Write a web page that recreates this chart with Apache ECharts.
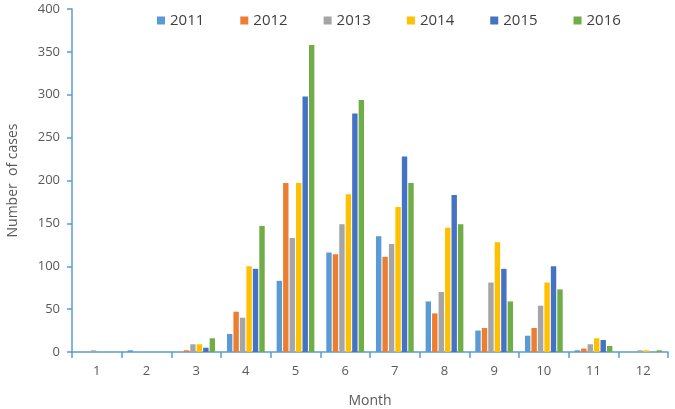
<!DOCTYPE html>
<html lang="en">
<head>
	<meta charset="UTF-8">
	<title>Cases by month</title>
	<style>
		* {
			margin: 0;
			padding: 0;
		}

		#box {
			width: 675px;
			height: 409px;
		}
	</style>
	<script src="https://cdn.jsdelivr.net/npm/echarts@6/dist/echarts.min.js"></script>
</head>
<body>
<div id="box"></div>
</body>
<script>
	// 数据
	const months = ['1', '2', '3', '4', '5', '6', '7', '8', '9', '10', '11', '12'];
	const years = ['2011', '2012', '2013', '2014', '2015', '2016'];
	const colors = ['#5B9BD5', '#ED7D31', '#A5A5A5', '#FFC000', '#4472C4', '#70AD47'];

	const cases2011 = [0, 2, 0, 21, 83, 116, 135, 59, 25, 19, 2, 0];
	const cases2012 = [0, 0, 2, 47, 197, 114, 111, 45, 28, 28, 4, 0];
	const cases2013 = [2, 0, 9, 40, 133, 149, 126, 70, 81, 54, 9, 2];
	const cases2014 = [0, 0, 9, 100, 197, 184, 169, 145, 128, 81, 16, 2];
	const cases2015 = [0, 0, 5, 97, 298, 278, 228, 183, 97, 100, 14, 0];
	const cases2016 = [0, 0, 16, 147, 358, 294, 197, 149, 59, 73, 7, 2];

	const allCases = [cases2011, cases2012, cases2013, cases2014, cases2015, cases2016];

	const axisColor = '#5B9BD5';
	const textColor = '#595959';
	const font = '"Open Sans", "Noto Sans", sans-serif';

	const myEcharts = echarts.init(document.getElementById('box'));

	myEcharts.setOption({
		animation: false,
		color: colors,
		textStyle: {fontFamily: font},
		legend: {
			top: 8,
			left: 152,
			icon: 'rect',
			itemWidth: 8,
			itemHeight: 8,
			itemGap: 36,
			textStyle: {fontSize: 15, color: '#404040', fontFamily: font},
			data: years,
		},
		grid: {
			left: 72,
			right: 7,
			top: 9,
			bottom: 57,
			containLabel: false,
			outerBoundsMode: 'none',
		},
		xAxis: {
			type: 'category',
			data: months,
			name: 'Month',
			nameLocation: 'middle',
			nameGap: 42,
			nameTextStyle: {fontSize: 14, color: textColor, fontFamily: font},
			axisLine: {lineStyle: {color: axisColor, width: 1.5}},
			axisTick: {show: true, alignWithLabel: false, length: 6, lineStyle: {color: axisColor, width: 1.5}},
			axisLabel: {fontSize: 13, color: textColor, margin: 13},
		},
		yAxis: {
			type: 'value',
			min: 0,
			max: 400,
			interval: 50,
			name: 'Number  of cases',
			nameLocation: 'middle',
			nameGap: 52,
			nameTextStyle: {fontSize: 14, color: textColor, fontFamily: font},
			axisLine: {show: true, lineStyle: {color: axisColor, width: 1.5}},
			axisTick: {show: true, length: 5, lineStyle: {color: axisColor, width: 1.5}},
			axisLabel: {fontSize: 13, color: textColor, margin: 12},
			splitLine: {show: false},
		},
		series: years.map(function (y, i) {
			return {
				name: y,
				type: 'bar',
				data: allCases[i],
				barGap: '20%',
				barCategoryGap: '24%',
			};
		}),
	});
</script>
</html>
